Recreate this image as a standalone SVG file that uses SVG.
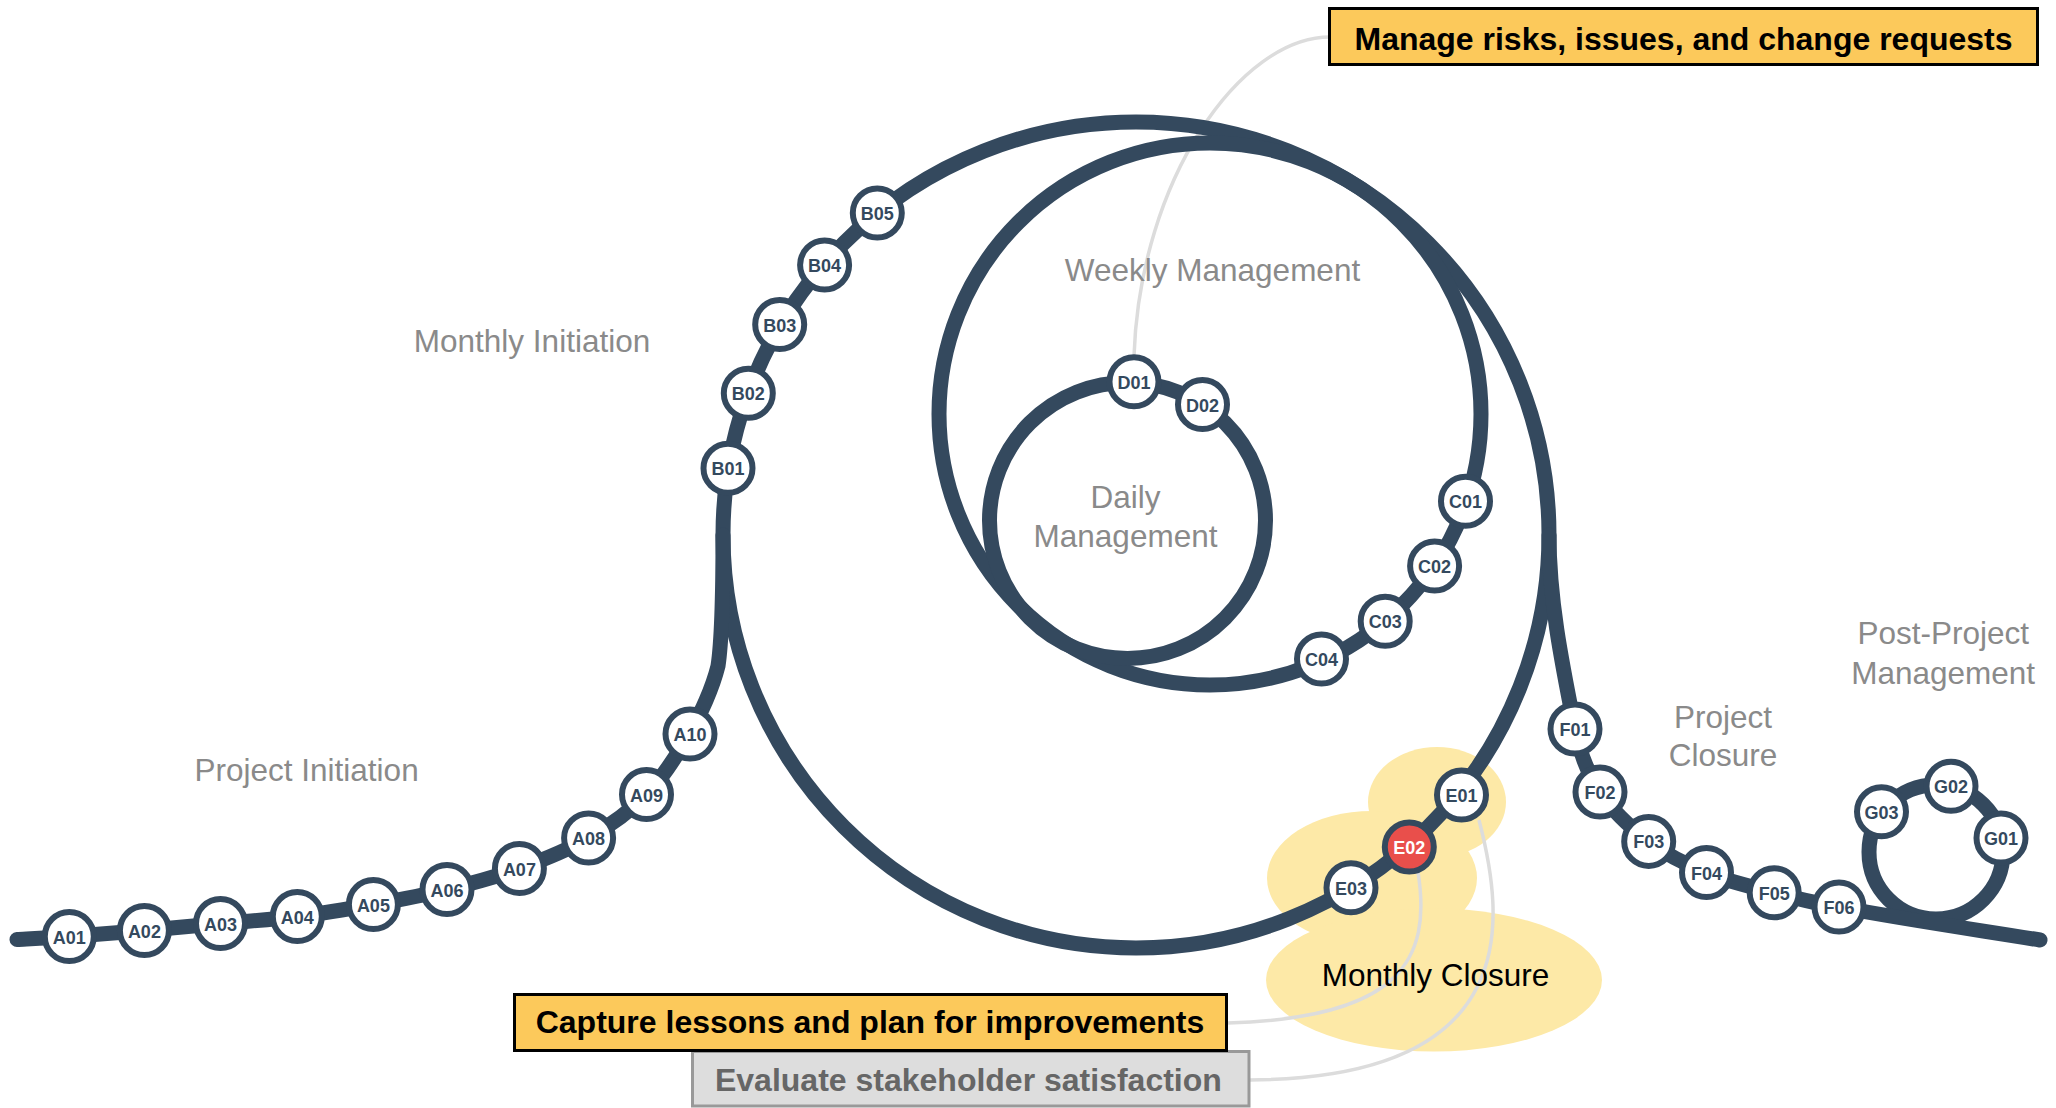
<svg xmlns="http://www.w3.org/2000/svg" width="2056" height="1108" viewBox="0 0 2056 1108">
<style>
.trk{fill:none;stroke:#34495e;stroke-width:15;stroke-linecap:round;stroke-linejoin:round}
.lead{fill:none;stroke:#dcdcdc;stroke-width:3.5}
.blob{fill:#fde9a7}
.n circle{fill:#ffffff;stroke:#34495e;stroke-width:6}
.n text{fill:#34495e;font-family:"Liberation Sans",Arial,sans-serif;font-weight:bold;font-size:18px;text-anchor:middle;dominant-baseline:central}
.n.hot circle{fill:#e94f4b}
.n.hot text{fill:#ffffff}
.lbl{fill:#8a8a8a;font-family:"Liberation Sans",Arial,sans-serif;font-size:31.5px;text-anchor:middle}
.box text{font-family:"Liberation Sans",Arial,sans-serif;font-weight:bold;font-size:32px;text-anchor:middle}
</style>
<rect width="2056" height="1108" fill="#ffffff"/>

<g id="monthly-closure-area">
<ellipse class="blob" cx="1437" cy="802" rx="69" ry="55"/>
<ellipse class="blob" cx="1372" cy="878" rx="105" ry="67"/>
<ellipse class="blob" cx="1434" cy="980" rx="168" ry="71.5"/>
</g>

<g id="leaders">
<path class="lead" d="M1134 356 C1140 180 1240 37 1330 37"/>
<path class="lead" d="M1418 872 C1432 960 1400 1018 1228 1023"/>
<path class="lead" d="M1479 820 C1505 920 1525 1078 1250 1080"/>
</g>

<g id="connectors">
<circle class="trk" cx="1136" cy="535" r="413"/>
<circle class="trk" cx="1210" cy="414" r="271"/>
<circle class="trk" cx="1127.5" cy="520.5" r="138"/>
<circle class="trk" cx="1936" cy="852" r="67"/>
<path class="trk" d="M17 939.5 C25.7 939 48.1 938 69.3 936.5 C90.5 935 119.2 932.7 144.4 930.5 C169.6 928.3 195 925.8 220.5 923.5 C246 921.2 271.8 919.7 297.3 916.5 C322.8 913.3 348.4 909 373.4 904.5 C398.4 900 422.7 895.5 447 889.5 C471.3 883.5 495.8 877.1 519.4 868.5 C543 859.9 567.4 850.3 588.6 838 C609.8 825.7 629.6 811.8 646.5 794.5 C663.4 777.2 677.3 754 690 734 C701 712 712 690 718 666 C722 640 723 600 723 535"/>
<path class="trk" d="M1549 535 C1549 600.2 1562.3 665 1575 729 C1579.4 751.2 1587.6 773.1 1600 792 C1612.7 811.3 1630.3 827.4 1648.7 841.4 C1666.2 854.7 1686.2 864.6 1706.5 872.5 C1728.4 881.8 1751.5 886.5 1774.2 892.7 C1795.5 898.1 1816.9 903.6 1839 907 C1905.5 919.5 1972.9 929.2 2040 940"/>
</g>

<g id="nodes">
<g id="A01" class="n"><circle cx="69.3" cy="936.5" r="24.5"/><text x="69.3" y="937.5">A01</text></g>
<g id="A02" class="n"><circle cx="144.4" cy="930.5" r="24.5"/><text x="144.4" y="931.5">A02</text></g>
<g id="A03" class="n"><circle cx="220.5" cy="923.5" r="24.5"/><text x="220.5" y="924.5">A03</text></g>
<g id="A04" class="n"><circle cx="297.3" cy="916.5" r="24.5"/><text x="297.3" y="917.5">A04</text></g>
<g id="A05" class="n"><circle cx="373.4" cy="904.5" r="24.5"/><text x="373.4" y="905.5">A05</text></g>
<g id="A06" class="n"><circle cx="447" cy="889.5" r="24.5"/><text x="447" y="890.5">A06</text></g>
<g id="A07" class="n"><circle cx="519.4" cy="868.5" r="24.5"/><text x="519.4" y="869.5">A07</text></g>
<g id="A08" class="n"><circle cx="588.6" cy="838" r="24.5"/><text x="588.6" y="839">A08</text></g>
<g id="A09" class="n"><circle cx="646.5" cy="794.5" r="24.5"/><text x="646.5" y="795.5">A09</text></g>
<g id="A10" class="n"><circle cx="690" cy="734" r="24.5"/><text x="690" y="735">A10</text></g>
<g id="B01" class="n"><circle cx="728" cy="468.3" r="24.5"/><text x="728" y="469.3">B01</text></g>
<g id="B02" class="n"><circle cx="748.3" cy="393.3" r="24.5"/><text x="748.3" y="394.3">B02</text></g>
<g id="B03" class="n"><circle cx="779.7" cy="324.5" r="24.5"/><text x="779.7" y="325.5">B03</text></g>
<g id="B04" class="n"><circle cx="824.6" cy="265" r="24.5"/><text x="824.6" y="266">B04</text></g>
<g id="B05" class="n"><circle cx="877.3" cy="213" r="24.5"/><text x="877.3" y="214">B05</text></g>
<g id="C01" class="n"><circle cx="1465.5" cy="501.2" r="24.5"/><text x="1465.5" y="502.2">C01</text></g>
<g id="C02" class="n"><circle cx="1434.6" cy="566" r="24.5"/><text x="1434.6" y="567">C02</text></g>
<g id="C03" class="n"><circle cx="1385.2" cy="621.2" r="24.5"/><text x="1385.2" y="622.2">C03</text></g>
<g id="C04" class="n"><circle cx="1321.5" cy="659" r="24.5"/><text x="1321.5" y="660">C04</text></g>
<g id="D01" class="n"><circle cx="1134" cy="381.7" r="24.5"/><text x="1134" y="382.7">D01</text></g>
<g id="D02" class="n"><circle cx="1202.5" cy="404.5" r="24.5"/><text x="1202.5" y="405.5">D02</text></g>
<g id="E01" class="n"><circle cx="1461.5" cy="795" r="24.5"/><text x="1461.5" y="796">E01</text></g>
<g id="E02" class="n hot"><circle cx="1409.3" cy="847" r="24.5"/><text x="1409.3" y="848">E02</text></g>
<g id="E03" class="n"><circle cx="1351" cy="887.8" r="24.5"/><text x="1351" y="888.8">E03</text></g>
<g id="F01" class="n"><circle cx="1575" cy="729" r="24.5"/><text x="1575" y="730">F01</text></g>
<g id="F02" class="n"><circle cx="1600" cy="792" r="24.5"/><text x="1600" y="793">F02</text></g>
<g id="F03" class="n"><circle cx="1648.7" cy="841.4" r="24.5"/><text x="1648.7" y="842.4">F03</text></g>
<g id="F04" class="n"><circle cx="1706.5" cy="872.5" r="24.5"/><text x="1706.5" y="873.5">F04</text></g>
<g id="F05" class="n"><circle cx="1774.2" cy="892.7" r="24.5"/><text x="1774.2" y="893.7">F05</text></g>
<g id="F06" class="n"><circle cx="1839" cy="907" r="24.5"/><text x="1839" y="908">F06</text></g>
<g id="G01" class="n"><circle cx="2001" cy="838" r="24.5"/><text x="2001" y="839">G01</text></g>
<g id="G02" class="n"><circle cx="1951" cy="786.3" r="24.5"/><text x="1951" y="787.3">G02</text></g>
<g id="G03" class="n"><circle cx="1881.5" cy="811.8" r="24.5"/><text x="1881.5" y="812.8">G03</text></g>
</g>

<g id="labels">
<text class="lbl" x="532" y="351.5">Monthly Initiation</text>
<text class="lbl" x="1212.5" y="280.7">Weekly Management</text>
<text class="lbl" x="1125.5" y="508.3">Daily</text>
<text class="lbl" x="1125.5" y="546.7">Management</text>
<text class="lbl" x="306.6" y="781">Project Initiation</text>
<text class="lbl" x="1723" y="728">Project</text>
<text class="lbl" x="1723" y="766.4">Closure</text>
<text class="lbl" x="1943.2" y="644.3">Post-Project</text>
<text class="lbl" x="1943.2" y="683.6">Management</text>
<text class="lbl" x="1435.5" y="985.7" style="fill:#000000">Monthly Closure</text>
</g>

<g id="box-risks" class="box">
<rect x="1329.5" y="8.5" width="708" height="56" fill="#fcc95b" stroke="#000000" stroke-width="3"/>
<text x="1683.5" y="50" fill="#000000">Manage risks, issues, and change requests</text>
</g>
<g id="box-evaluate" class="box">
<rect x="692.5" y="1051.5" width="556.5" height="54.5" fill="#dddddd" stroke="#999999" stroke-width="3"/>
<text x="968.4" y="1090.7" fill="#666666">Evaluate stakeholder satisfaction</text>
</g>
<g id="box-capture" class="box">
<rect x="514.5" y="994.5" width="712" height="56" fill="#fcc95b" stroke="#000000" stroke-width="3"/>
<text x="870" y="1033.3" fill="#000000">Capture lessons and plan for improvements</text>
</g>
</svg>
